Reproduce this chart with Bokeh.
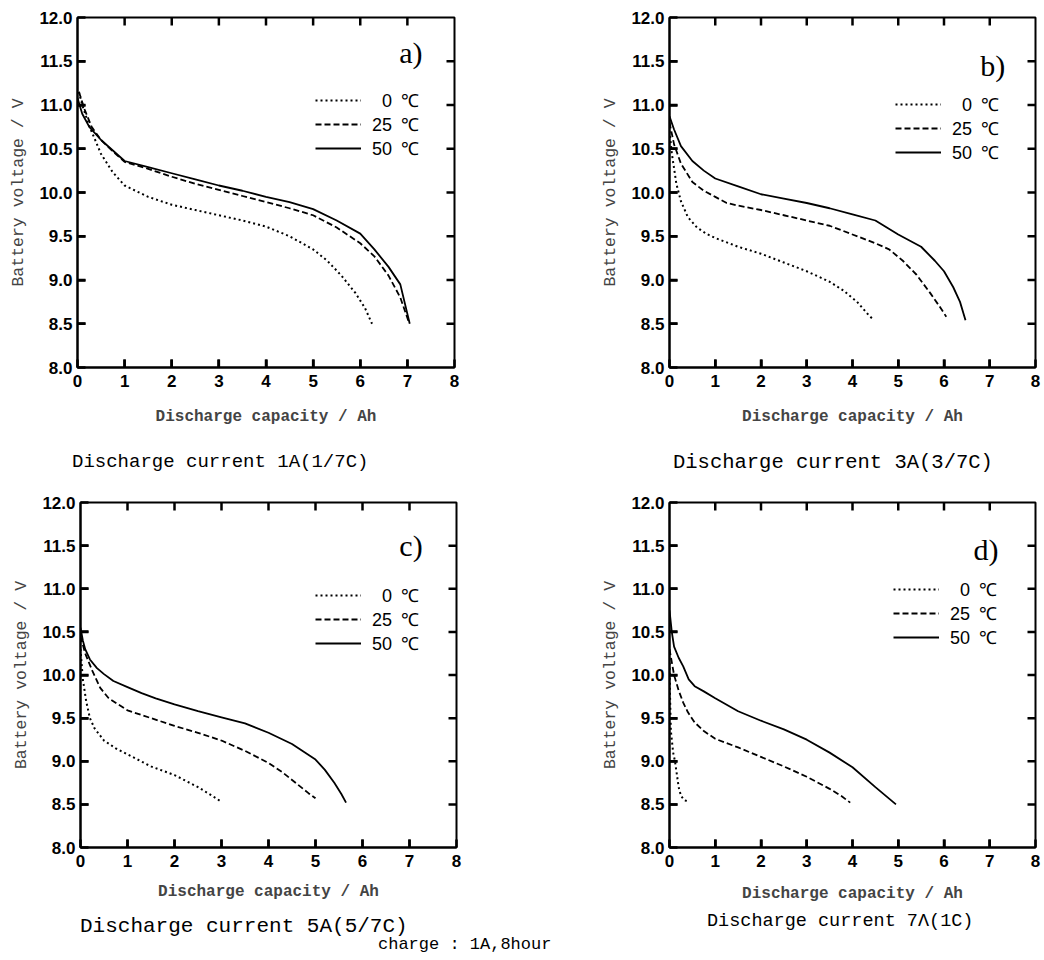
import math
from bokeh.plotting import figure
from bokeh.models import (Range1d, FixedTicker, Legend, LegendItem,
                          Label, Div, PrintfTickFormatter)
from bokeh.layouts import column, row
from bokeh.embed import file_html
from bokeh.resources import INLINE

# ---------------- data ----------------
X_MIN, X_MAX = 0, 8
Y_MIN, Y_MAX = 8.0, 12.0
X_TICKS = [0, 1, 2, 3, 4, 5, 6, 7, 8]
Y_TICKS = [8.0, 8.5, 9.0, 9.5, 10.0, 10.5, 11.0, 11.5, 12.0]
TEMPS = ["\u20070\u2002\u2103", "25\u2002\u2103", "50\u2002\u2103"]
PANEL_TAGS = ["a)", "b)", "c)", "d)"]
CAPTIONS = ["Discharge current 1A(1/7C)", "Discharge current 3A(3/7C)",
            "Discharge current 5A(5/7C)", "Discharge current 7\u039b(1C)"]
X_LABEL = "Discharge capacity / Ah"
Y_LABEL = "Battery voltage / V"
FOOTNOTE = "charge : 1A,8hour"

# panel a) 1A
a_x_0 = [0.03, 0.1, 0.25, 0.5, 0.75, 1.0, 1.5, 2.0, 2.5, 3.0, 3.5, 4.0, 4.5, 5.0, 5.3, 5.6, 5.9, 6.1, 6.25]
a_v_0 = [11.15, 11.0, 10.76, 10.44, 10.23, 10.08, 9.95, 9.86, 9.8, 9.74, 9.68, 9.61, 9.5, 9.35, 9.22, 9.05, 8.85, 8.68, 8.5]
a_x_25 = [0.03, 0.15, 0.3, 0.5, 0.75, 1.0, 1.5, 2.0, 2.5, 3.0, 3.5, 4.0, 4.5, 5.0, 5.5, 6.0, 6.3, 6.6, 6.85, 7.03]
a_v_25 = [11.15, 10.95, 10.75, 10.6, 10.47, 10.35, 10.27, 10.18, 10.1, 10.03, 9.96, 9.89, 9.82, 9.74, 9.6, 9.42, 9.27, 9.05, 8.8, 8.52]
a_x_50 = [0.0, 0.1, 0.25, 0.5, 0.75, 1.0, 1.5, 2.0, 2.5, 3.0, 3.5, 4.0, 4.5, 5.0, 5.5, 6.0, 6.3, 6.6, 6.85, 7.05]
a_v_50 = [11.08, 10.9, 10.75, 10.6, 10.48, 10.36, 10.29, 10.22, 10.15, 10.08, 10.02, 9.95, 9.89, 9.81, 9.68, 9.53, 9.35, 9.15, 8.95, 8.5]

# panel b) 3A
b_x_0 = [0.0, 0.05, 0.15, 0.25, 0.4, 0.6, 0.8, 1.0, 1.5, 2.0, 2.5, 3.0, 3.5, 3.8, 4.1, 4.35, 4.45]
b_v_0 = [10.7, 10.45, 10.1, 9.9, 9.72, 9.6, 9.53, 9.48, 9.38, 9.3, 9.2, 9.1, 8.98, 8.88, 8.75, 8.6, 8.55]
b_x_25 = [0.0, 0.1, 0.25, 0.5, 0.75, 1.0, 1.25, 1.5, 2.0, 2.5, 3.0, 3.5, 4.0, 4.5, 4.8, 5.1, 5.4, 5.7, 5.9, 6.05]
b_v_25 = [10.8, 10.55, 10.33, 10.12, 10.02, 9.95, 9.88, 9.85, 9.8, 9.74, 9.68, 9.62, 9.52, 9.42, 9.35, 9.22, 9.06, 8.85, 8.7, 8.58]
b_x_50 = [0.0, 0.1, 0.25, 0.5, 0.75, 1.0, 1.5, 2.0, 2.5, 3.0, 3.5, 4.0, 4.5, 5.0, 5.5, 5.8, 6.0, 6.2, 6.35, 6.47]
b_v_50 = [10.87, 10.72, 10.53, 10.36, 10.25, 10.16, 10.07, 9.98, 9.93, 9.88, 9.82, 9.75, 9.68, 9.52, 9.38, 9.22, 9.1, 8.92, 8.75, 8.54]

# panel c) 5A
c_x_0 = [0.0, 0.05, 0.12, 0.2, 0.3, 0.5, 0.75, 1.0, 1.5, 2.0, 2.5, 2.8, 3.0]
c_v_0 = [10.3, 9.95, 9.7, 9.5, 9.38, 9.24, 9.15, 9.08, 8.94, 8.84, 8.7, 8.6, 8.53]
c_x_25 = [0.0, 0.1, 0.25, 0.42, 0.6, 0.8, 1.0, 1.5, 2.0, 2.5, 3.0, 3.5, 4.0, 4.3, 4.6, 4.85, 5.0]
c_v_25 = [10.45, 10.25, 10.05, 9.85, 9.73, 9.66, 9.59, 9.5, 9.41, 9.33, 9.24, 9.12, 8.98, 8.87, 8.74, 8.63, 8.57]
c_x_50 = [0.0, 0.05, 0.1, 0.2, 0.35, 0.5, 0.7, 1.0, 1.3, 1.6, 2.0, 2.5, 3.0, 3.5, 4.0, 4.5, 5.0, 5.2, 5.4, 5.55, 5.65]
c_v_50 = [10.55, 10.4, 10.3, 10.18, 10.08, 10.01, 9.93, 9.86, 9.79, 9.73, 9.66, 9.58, 9.51, 9.44, 9.33, 9.2, 9.02, 8.9, 8.75, 8.62, 8.52]

# panel d) 7A
d_x_0 = [0.0, 0.01, 0.03, 0.08, 0.12, 0.16, 0.2, 0.25, 0.32, 0.42]
d_v_0 = [10.2, 9.8, 9.35, 9.1, 9.0, 8.85, 8.7, 8.6, 8.55, 8.53]
d_x_25 = [0.0, 0.05, 0.1, 0.2, 0.3, 0.4, 0.55, 0.75, 1.0, 1.5, 2.0, 2.5, 3.0, 3.5, 3.75, 3.95]
d_v_25 = [10.3, 10.15, 10.0, 9.82, 9.68, 9.57, 9.45, 9.35, 9.26, 9.16, 9.05, 8.94, 8.82, 8.68, 8.6, 8.52]
d_x_50 = [0.0, 0.05, 0.1, 0.2, 0.3, 0.42, 0.55, 0.75, 1.0, 1.5, 2.0, 2.5, 3.0, 3.5, 4.0, 4.5, 4.95]
d_v_50 = [10.75, 10.5, 10.33, 10.2, 10.1, 9.95, 9.87, 9.81, 9.73, 9.58, 9.47, 9.37, 9.25, 9.1, 8.93, 8.7, 8.5]

SERIES = [
    [(a_x_0, a_v_0), (a_x_25, a_v_25), (a_x_50, a_v_50)],
    [(b_x_0, b_v_0), (b_x_25, b_v_25), (b_x_50, b_v_50)],
    [(c_x_0, c_v_0), (c_x_25, c_v_25), (c_x_50, c_v_50)],
    [(d_x_0, d_v_0), (d_x_25, d_v_25), (d_x_50, d_v_50)],
]

# ---------------- layout / style ----------------
DASHES = ["2 3", "6 3", "solid"]
LINE_W = [2.0, 1.8, 1.8]

# figure boxes: width, height, min borders, legend pos, tag pos, x-label standoff
LAYOUT = [
    dict(w=520, h=445, l=77, r=66, t=15, b=78, leg=(238, 207), tag=(7.32, 11.6), xs=18),
    dict(w=524, h=445, l=149, r=9, t=17, b=76, leg=(226, 203), tag=(7.34, 11.45), xs=18),
    dict(w=520, h=425, l=80, r=64, t=22, b=53, leg=(235, 192), tag=(7.28, 11.5), xs=13),
    dict(w=524, h=425, l=149, r=9, t=22, b=54, leg=(224, 198), tag=(7.19, 11.45), xs=15),
]
# caption rows: (height, [(left margin, width, top pad, font size) per column])
CAP_ROWS = [
    (35, [(72, 448, 8, 19), (153, 371, 8, 20.5)]),
    (30, [(80, 440, 11, 21), (187, 337, 8, 18.5)]),
]

TICK_FONT = "Liberation Sans"
MONO = "Liberation Mono"
TICK_LEN = 8
TICK_W = 2.5


def make_panel(i):
    L = LAYOUT[i]
    p = figure(width=L["w"], height=L["h"], output_backend="svg", toolbar_location=None,
               x_range=Range1d(X_MIN, X_MAX), y_range=Range1d(Y_MIN, Y_MAX),
               min_border_left=L["l"], min_border_right=L["r"],
               min_border_top=L["t"], min_border_bottom=L["b"])
    p.grid.visible = False
    p.outline_line_color = "black"
    p.outline_line_width = 2
    p.background_fill_color = "white"
    p.border_fill_color = "white"

    for ax, ticks in ((p.xaxis[0], X_TICKS), (p.yaxis[0], Y_TICKS)):
        ax.ticker = FixedTicker(ticks=ticks)
        ax.axis_line_color = "black"
        ax.axis_line_width = 2
        ax.major_tick_in = TICK_LEN
        ax.major_tick_out = 0
        ax.major_tick_line_width = TICK_W
        ax.major_tick_line_color = "black"
        ax.minor_tick_line_color = None
        ax.major_label_text_font = TICK_FONT
        ax.major_label_text_font_style = "bold"
        ax.major_label_text_font_size = "17px"
        ax.major_label_text_color = "black"
        ax.major_label_standoff = 7
    p.xaxis[0].formatter = PrintfTickFormatter(format="%d")
    p.yaxis[0].formatter = PrintfTickFormatter(format="%.1f")
    p.yaxis[0].major_label_standoff = 5

    p.xaxis[0].axis_label = X_LABEL
    p.xaxis[0].axis_label_text_font = MONO
    p.xaxis[0].axis_label_text_font_style = "bold"
    p.xaxis[0].axis_label_text_font_size = "16px"
    p.xaxis[0].axis_label_standoff = L["xs"]
    p.yaxis[0].axis_label = Y_LABEL
    p.yaxis[0].axis_label_text_font = MONO
    p.yaxis[0].axis_label_text_font_style = "normal"
    p.yaxis[0].axis_label_text_font_size = "16.5px"
    p.yaxis[0].axis_label_standoff = 8

    # inward tick marks on top and right edges (and reinforcing bottom/left):
    # dash markers centred on the frame edge, outer half clipped by the frame
    xt = X_TICKS[1:-1]
    yt = Y_TICKS[1:-1]
    mk = dict(marker="dash", size=2 * TICK_LEN, line_color="black", line_width=TICK_W)
    p.scatter(x=xt, y=[Y_MIN] * len(xt), angle=math.pi / 2, **mk)
    p.scatter(x=xt, y=[Y_MAX] * len(xt), angle=math.pi / 2, **mk)
    p.scatter(x=[X_MIN] * len(yt), y=yt, angle=0, **mk)
    p.scatter(x=[X_MAX] * len(yt), y=yt, angle=0, **mk)

    rends = []
    for k, (xs, vs) in enumerate(SERIES[i]):
        r = p.line(xs, vs, line_color="black", line_width=LINE_W[k], line_dash=DASHES[k])
        rends.append(r)

    leg = Legend(items=[LegendItem(label=TEMPS[k], renderers=[rends[k]]) for k in range(3)],
                 location=L["leg"], glyph_width=46, glyph_height=22, label_height=22,
                 spacing=0, padding=0, margin=0, border_line_color=None,
                 background_fill_alpha=0, label_standoff=11,
                 label_text_font=TICK_FONT, label_text_font_size="18px",
                 label_text_color="black")
    p.add_layout(leg)

    tx, ty = L["tag"]
    p.add_layout(Label(x=tx, y=ty, text=PANEL_TAGS[i], text_align="right", text_baseline="middle",
                       text_font="Liberation Serif", text_font_size="30px", text_color="black"))
    return p


def caption_row(r):
    h, cols = CAP_ROWS[r]
    divs = []
    for k, (ml, w, pt, fs) in enumerate(cols):
        divs.append(Div(text=CAPTIONS[2 * r + k], width=w, height=h - pt, margin=(pt, 0, 0, ml),
                        styles={"font-family": MONO, "font-size": f"{fs}px",
                                "line-height": f"{fs}px", "color": "black",
                                "white-space": "nowrap"}))
    return row(*divs)


panels = [make_panel(i) for i in range(4)]
foot = Div(text=FOOTNOTE, width=300, height=24, margin=(1, 0, 0, 378),
           styles={"font-family": MONO, "font-size": "17px", "line-height": "17px",
                   "color": "black", "white-space": "nowrap"})
layout = column(row(panels[0], panels[1]), caption_row(0),
                row(panels[2], panels[3]), caption_row(1), foot)

open("out.html", "w").write(file_html(layout, INLINE))
